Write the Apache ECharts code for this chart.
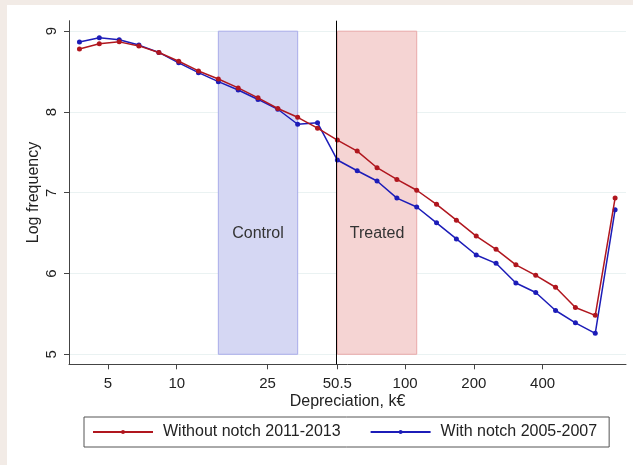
<!DOCTYPE html>
<html>
<head>
<meta charset="utf-8">
<script src="https://cdn.jsdelivr.net/npm/echarts@6/dist/echarts.min.js"></script>
<style>
  html, body { margin: 0; padding: 0; background: #f2ebe6; }
  #chart { position: absolute; left: 7px; top: 5px; width: 626px; height: 460px; background: #ffffff; }
</style>
</head>
<body>
<div id="chart"></div>
<script>
// Depreciation bins (k€) on a log scale
const depreciation = [3.75, 4.58, 5.60, 6.83, 8.35, 10.2, 12.45, 15.21, 18.58, 22.69, 27.71, 33.85, 41.35, 50.5,
  61.68, 75.34, 92.02, 112.39, 137.27, 167.67, 204.79, 250.13, 305.51, 373.15, 455.76, 556.67, 679.93, 830.5];

// Log frequency per bin
const withoutNotch = [8.78, 8.845, 8.868, 8.818, 8.737, 8.628, 8.508, 8.408, 8.298, 8.175, 8.043, 7.934, 7.800, 7.652,
  7.516, 7.310, 7.165, 7.031, 6.856, 6.660, 6.463, 6.299, 6.107, 5.977, 5.830, 5.579, 5.482, 6.934];
const withNotch = [8.866, 8.920, 8.895, 8.828, 8.737, 8.608, 8.487, 8.375, 8.272, 8.155, 8.034, 7.848, 7.866, 7.405,
  7.272, 7.145, 6.934, 6.823, 6.627, 6.428, 6.229, 6.126, 5.882, 5.765, 5.542, 5.389, 5.259, 6.79];

const seriesNames = ['Without notch 2011-2013', 'With notch 2005-2007'];

// Axis ticks
const xTicks = [5, 10, 25, 50.5, 100, 200, 400];
const xTickLabels = ['5', '10', '25', '50.5', '100', '200', '400'];
const yTicks = [5, 6, 7, 8, 9];

// Bands and the notch threshold
const controlBand = [15.21, 33.85];
const treatedBand = [50.5, 112.39];
const bandRange = [5, 9];
const notch = 50.5;
const bandLabels = ['Control', 'Treated'];

const lg = Math.log10;
const FONT = 'Liberation Sans, Arial, sans-serif';
const RED = '#b0161e';
const BLUE = '#1c1cb8';

const redPts = depreciation.map((d, i) => [lg(d), withoutNotch[i]]);
const bluePts = depreciation.map((d, i) => [lg(d), withNotch[i]]);

const chart = echarts.init(document.getElementById('chart'), null, { renderer: 'canvas' });

chart.setOption({
  animation: false,
  textStyle: { fontFamily: FONT },
  grid: { left: 62, right: 7, top: 15.7, bottom: 100.7, containLabel: false },
  legend: {
    data: seriesNames,
    left: 77, top: 412,
    orient: 'horizontal',
    padding: [7, 12, 7, 8],
    itemGap: 29,
    itemWidth: 60, itemHeight: 5,
    borderColor: '#555555', borderWidth: 1,
    backgroundColor: '#ffffff',
    textStyle: { fontSize: 16, color: '#222222', fontFamily: FONT, padding: [0, 0, 0, 5] }
  },
  xAxis: {
    type: 'value',
    min: lg(3.375), max: lg(927),
    name: 'Depreciation, k€',
    nameLocation: 'middle',
    nameGap: 29,
    nameMoveOverlap: false,
    nameTextStyle: { fontSize: 16, color: '#222222', fontFamily: FONT },
    axisLine: { show: true, onZero: false, lineStyle: { color: '#444444', width: 1 } },
    axisTick: { show: true, customValues: xTicks.map(lg), length: 5, lineStyle: { color: '#444444' } },
    axisLabel: {
      customValues: xTicks.map(lg),
      fontSize: 15, color: '#222222', margin: 12, fontFamily: FONT,
      formatter: function (v) {
        const i = xTicks.findIndex(t => Math.abs(lg(t) - v) < 1e-6);
        return i >= 0 ? xTickLabels[i] : '';
      }
    },
    splitLine: { show: false }
  },
  yAxis: {
    type: 'value',
    min: 4.876, max: 9.13,
    name: 'Log frequency',
    nameLocation: 'middle',
    nameRotate: 90,
    nameGap: 27,
    nameMoveOverlap: false,
    nameTextStyle: { fontSize: 16, color: '#222222', fontFamily: FONT },
    axisLine: { show: true, lineStyle: { color: '#444444', width: 1 } },
    axisTick: { show: true, customValues: yTicks, length: 5, lineStyle: { color: '#444444' } },
    axisLabel: { customValues: yTicks, rotate: 90, fontSize: 15, color: '#222222', margin: 10, fontFamily: FONT },
    splitLine: { show: true, lineStyle: { color: '#eaf2f2', width: 1 } }
  },
  series: [
    {
      name: seriesNames[1],
      type: 'line',
      data: bluePts,
      z: 3,
      symbol: 'circle', symbolSize: 5,
      lineStyle: { color: BLUE, width: 1.5 },
      itemStyle: { color: BLUE },
      markArea: {
        silent: true,
        z: 1,
        label: {
          show: true, position: ['50%', '62.5%'], align: 'center', verticalAlign: 'middle',
          fontSize: 16, color: '#333333', fontFamily: FONT
        },
        data: [
          [
            { name: bandLabels[0], xAxis: lg(controlBand[0]), yAxis: bandRange[0],
              itemStyle: { color: '#d5d7f3', borderColor: '#a9acea', borderWidth: 1 } },
            { xAxis: lg(controlBand[1]), yAxis: bandRange[1] }
          ],
          [
            { name: bandLabels[1], xAxis: lg(treatedBand[0]), yAxis: bandRange[0],
              itemStyle: { color: '#f5d4d3', borderColor: '#e9a9a9', borderWidth: 1 } },
            { xAxis: lg(treatedBand[1]), yAxis: bandRange[1] }
          ]
        ]
      },
      markLine: {
        silent: true,
        symbol: 'none',
        label: { show: false },
        lineStyle: { color: '#000000', width: 1, type: 'solid' },
        data: [{ xAxis: lg(notch) }]
      }
    },
    {
      name: seriesNames[0],
      type: 'line',
      data: redPts,
      z: 4,
      symbol: 'circle', symbolSize: 5,
      lineStyle: { color: RED, width: 1.5 },
      itemStyle: { color: RED }
    }
  ]
});
</script>
</body>
</html>
